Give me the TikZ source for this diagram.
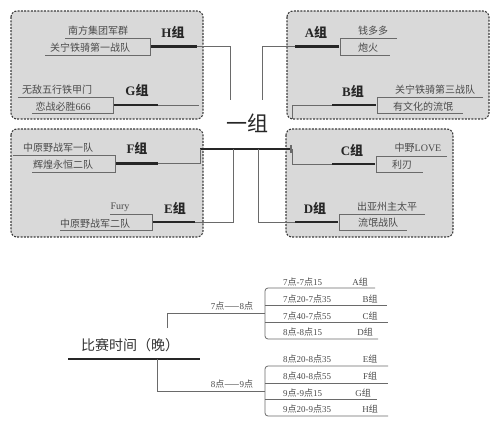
\documentclass[tikz,border=0pt]{standalone}
\usepackage{fontspec}
\setmainfont{Liberation Serif}
\newfontfamily\cjk{Noto Sans CJK SC}
\newcommand\dian{{\cjk 点}}
\newcommand\zu{{\cjk 组}}
\definecolor{boxfill}{HTML}{D9D9D9}
\definecolor{boxline}{HTML}{3C3C3C}
\definecolor{thinline}{HTML}{6A6A6A}
\definecolor{teamtext}{HTML}{4A4A4A}
\tikzset{
  grpbox/.style={draw=boxline, fill=boxfill, line width=1.1pt, dash pattern=on 2pt off 1.3pt, rounded corners=6pt},
  thinln/.style={draw=thinline, line width=0.8pt},
  thickln/.style={draw=black!85, line width=2.6pt},
  team/.style={text=teamtext, font=\fontsize{10}{12}\selectfont\cjk, inner sep=0pt},
  grp/.style={text=black!85, font=\fontsize{13}{15}\selectfont\bfseries, inner sep=0pt},
  tlabel/.style={text=teamtext, font=\fontsize{9}{11}\selectfont, inner sep=0pt},
  trow/.style={text=teamtext, font=\fontsize{9}{11}\selectfont, inner sep=0pt, anchor=west},
}
\begin{document}
\begin{tikzpicture}[x=1pt,y=-1pt]
\useasboundingbox (0,0) rectangle (500,427);
\fill[white] (0,0) rectangle (500,427);
% boxes
\draw[grpbox] (11,11) rectangle (203,119);
\draw[grpbox] (287,11) rectangle (489,119);
\draw[grpbox] (11,129) rectangle (203,237);
\draw[grpbox] (286,129) rectangle (453,237);

% ---------- H ----------
\coordinate (h1) at (65,38); \coordinate (h2) at (150,38);
\coordinate (h3) at (150,55); \coordinate (h4) at (45,55);
\draw[thinln] (h1) -- (h2) -- (h3) -- (h4);
\coordinate (hm) at (151,46.5); \coordinate (hk) at (197,46.5);
\coordinate (hv) at (230,46.5); \coordinate (hb) at (230,100);
\draw[thickln] (hm) -- (hk);
\draw[thinln] (hk) -- (hv) -- (hb);
\node[team] (hA) at (98,31) {南方集团军群};
\node[team] (hB) at (90,47.5) {关宁铁骑第一战队};
\node[grp] (hL) at (173,32) {H\zu};

% ---------- G ----------
\coordinate (g1) at (18,97); \coordinate (g2) at (113,97);
\coordinate (g3) at (113,113); \coordinate (g4) at (32,113);
\draw[thinln] (g1) -- (g2) -- (g3) -- (g4);
\coordinate (gm) at (114,105); \coordinate (gk) at (158,105);
\coordinate (gv) at (199,105);
\draw[thickln] (gm) -- (gk);
\draw[thinln] (gk) -- (gv);
\node[team] (gA) at (57,90) {无敌五行铁甲门};
\node[team] (gB) at (63,106.5) {恋战必胜{\rmfamily 666}};
\node[grp] (gL) at (137,90) {G\zu};

% ---------- A ----------
\coordinate (a1) at (397,38); \coordinate (a2) at (340,38);
\coordinate (a3) at (340,55); \coordinate (a4) at (390,55);
\draw[thinln] (a1) -- (a2) -- (a3) -- (a4);
\coordinate (am) at (339,46.5); \coordinate (ak) at (295,46.5);
\coordinate (av) at (262,46.5); \coordinate (ab) at (262,100);
\draw[thickln] (am) -- (ak);
\draw[thinln] (ak) -- (av) -- (ab);
\node[team] (aA) at (373,31) {钱多多};
\node[team] (aB) at (368,48) {炮火};
\node[grp] (aL) at (316,32) {A\zu};

% ---------- B ----------
\coordinate (b1) at (483,97); \coordinate (b2) at (377,97);
\coordinate (b3) at (377,113); \coordinate (b4) at (463,113);
\draw[thinln] (b1) -- (b2) -- (b3) -- (b4);
\coordinate (bm) at (376,105); \coordinate (bk) at (332,105);
\coordinate (bv) at (292,105); \coordinate (bb) at (292,119);
\draw[thickln] (bm) -- (bk);
\draw[thinln] (bk) -- (bv) -- (bb);
\node[team] (bA) at (435,90) {关宁铁骑第三战队};
\node[team] (bB) at (423,106.5) {有文化的流氓};
\node[grp] (bL) at (353,91) {B\zu};

% ---------- central ----------
\coordinate (c0) at (200,149); \coordinate (c9) at (291,149);
\coordinate (t1) at (291,145); \coordinate (t2) at (291,153);
\draw[thickln] (c0) -- (c9);
\draw[thinln, line width=1.4pt] (t1) -- (t2);
\node[inner sep=0pt, text=black!85, font=\fontsize{21}{24}\selectfont\cjk] (one) at (247,123) {一组};

% ---------- C ----------
\coordinate (k1) at (447,156); \coordinate (k2) at (376,156);
\coordinate (k3) at (376,172); \coordinate (k4) at (423,172);
\draw[thinln] (k1) -- (k2) -- (k3) -- (k4);
\coordinate (km) at (375,164); \coordinate (kk) at (332,164);
\coordinate (kv) at (292,164); \coordinate (kt) at (292,149);
\draw[thickln] (km) -- (kk);
\draw[thinln] (kk) -- (kv) -- (kt);
\node[team] (kA) at (418,148) {中野{\rmfamily LOVE}};
\node[team] (kB) at (402,165) {利刃};
\node[grp] (kL) at (352,150) {C\zu};

% ---------- D ----------
\coordinate (d1) at (425,214); \coordinate (d2) at (339,214);
\coordinate (d3) at (339,230); \coordinate (d4) at (407,230);
\draw[thinln] (d1) -- (d2) -- (d3) -- (d4);
\coordinate (dm) at (338,222); \coordinate (dk) at (295,222);
\coordinate (dv) at (258,222); \coordinate (dt) at (258,149);
\draw[thickln] (dm) -- (dk);
\draw[thinln] (dk) -- (dv) -- (dt);
\node[team] (dA) at (387,207) {出亚州主太平};
\node[team] (dB) at (378,223) {流氓战队};
\node[grp] (dL) at (315,208) {D\zu};

% ---------- F ----------
\coordinate (f1) at (13,155); \coordinate (f2) at (115,155);
\coordinate (f3) at (115,172); \coordinate (f4) at (32,172);
\draw[thinln] (f1) -- (f2) -- (f3) -- (f4);
\coordinate (fm) at (116,163.5); \coordinate (fk) at (158,163.5);
\coordinate (fv) at (200,163.5); \coordinate (ft) at (200,149);
\draw[thickln] (fm) -- (fk);
\draw[thinln] (fk) -- (fv) -- (ft);
\node[team] (fA) at (58,148) {中原野战军一队};
\node[team] (fB) at (63,164.5) {辉煌永恒二队};
\node[grp] (fL) at (137,148) {F\zu};

% ---------- E ----------
\coordinate (e1) at (110,214); \coordinate (e2) at (152,214);
\coordinate (e3) at (152,230); \coordinate (e4) at (60,230);
\draw[thinln] (e1) -- (e2) -- (e3) -- (e4);
\coordinate (em) at (153,222); \coordinate (ek) at (195,222);
\coordinate (ev) at (233,222); \coordinate (et) at (233,149);
\draw[thickln] (em) -- (ek);
\draw[thinln] (ek) -- (ev) -- (et);
\node[team] (eA) at (120,207) {{\rmfamily Fury}};
\node[team] (eB) at (95,224) {中原野战军二队};
\node[grp] (eL) at (175,208) {E\zu};

% ---------- schedule ----------
\node[inner sep=0pt, text=black!80, font=\fontsize{14}{17}\selectfont\cjk] (title) at (130,345) {比赛时间（晚）};
\coordinate (s0) at (68,359); \coordinate (s9) at (200,359);
\draw[thickln] (s0) -- (s9);

\coordinate (u0) at (167,328); \coordinate (u1) at (167,313); \coordinate (u2) at (265,313);
\draw[thinln] (u0) -- (u1) -- (u2);
\node[tlabel] (ul) at (232,306) {7\dian{\cjk ——}8\dian};

\coordinate (l0) at (157,359); \coordinate (l1) at (157,391); \coordinate (l2) at (265,391);
\draw[thinln] (l0) -- (l1) -- (l2);
\node[tlabel] (ll) at (232,384) {8\dian{\cjk ——}9\dian};

% upper bracket
\coordinate (ua) at (375,288); \coordinate (ub) at (265,288);
\coordinate (uc) at (265,339); \coordinate (ud) at (378,339);
\draw[thinln, rounded corners=3pt] (ua) -- (ub) -- (uc) -- (ud);
\coordinate (ue) at (265,305); \coordinate (uf) at (387,305);
\coordinate (ug) at (265,322); \coordinate (uh) at (388,322);
\draw[thinln] (ue) -- (uf);
\draw[thinln] (ug) -- (uh);
\node[trow] (r1) at (283,282) {7\dian-7\dian15};
\node[trow] (r2) at (283,299) {7\dian20-7\dian35};
\node[trow] (r3) at (283,316) {7\dian40-7\dian55};
\node[trow] (r4) at (283,332) {8\dian-8\dian15};
\node[tlabel] (q1) at (360,282) {A\zu};
\node[tlabel] (q2) at (370,299) {B\zu};
\node[tlabel] (q3) at (370,316) {C\zu};
\node[tlabel] (q4) at (365,332) {D\zu};

% lower bracket
\coordinate (va) at (388,366); \coordinate (vb) at (265,366);
\coordinate (vc) at (265,416); \coordinate (vd) at (388,416);
\draw[thinln, rounded corners=3pt] (va) -- (vb) -- (vc) -- (vd);
\coordinate (ve) at (265,383); \coordinate (vf) at (388,383);
\coordinate (vg) at (265,399); \coordinate (vh) at (377,399);
\draw[thinln] (ve) -- (vf);
\draw[thinln] (vg) -- (vh);
\node[trow] (r5) at (283,359) {8\dian20-8\dian35};
\node[trow] (r6) at (283,376) {8\dian40-8\dian55};
\node[trow] (r7) at (283,393) {9\dian-9\dian15};
\node[trow] (r8) at (283,409) {9\dian20-9\dian35};
\node[tlabel] (q5) at (370,359) {E\zu};
\node[tlabel] (q6) at (370,376) {F\zu};
\node[tlabel] (q7) at (363,393) {G\zu};
\node[tlabel] (q8) at (370,409) {H\zu};
\end{tikzpicture}
\end{document}
